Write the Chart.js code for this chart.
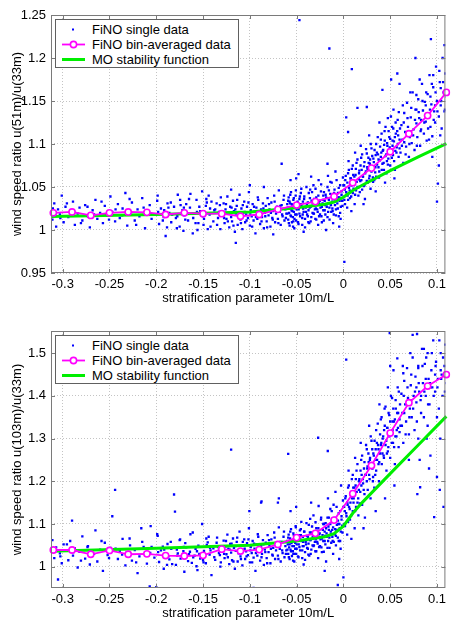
<!DOCTYPE html>
<html lang="en">
<head>
<meta charset="UTF-8">
<title>FiNO wind speed ratio vs stratification</title>
<script src="https://cdn.jsdelivr.net/npm/chart.js"></script>
<style>
  body { margin: 0; background: #fff; }
  #wrap { position: relative; width: 451px; height: 623px; font-family: "Liberation Sans", Arial, sans-serif; }
  canvas { position: absolute; left: 0; }
  .legend { position: absolute; left: 55px; width: 182px; height: 47px; border: 1px solid #606060; background: #fff; font-size: 13px; color: #000; }
  .legend .row { position: absolute; left: 0; width: 182px; height: 15px; line-height: 15px; }
  .legend svg { position: absolute; left: 0; top: 0; }
  .legend span { position: absolute; left: 36px; white-space: nowrap; }
</style>
</head>
<body>
<div id="wrap">
  <canvas id="top" width="451" height="310" style="top:0"></canvas>
  <canvas id="bottom" width="451" height="313" style="top:310px"></canvas>
  <div class="legend" id="legTop" style="top:19px"></div>
  <div class="legend" id="legBottom" style="top:335px"></div>
</div>

<script>
// bin centres (both panels)
const binX = [-0.31,-0.29,-0.27,-0.25,-0.23,-0.21,-0.19,-0.17,-0.15,-0.13,-0.11,-0.09,-0.07,-0.05,-0.03,-0.01,0.01,0.03,0.05,0.07,0.09,0.11];
// bin-averaged ratios
const bin51  = [1.020,1.021,1.017,1.020,1.021,1.0205,1.018,1.020,1.019,1.019,1.016,1.018,1.024,1.029,1.033,1.039,1.055,1.072,1.091,1.112,1.133,1.160];
const bin103 = [1.039,1.039,1.029,1.038,1.029,1.030,1.026,1.025,1.0265,1.041,1.0365,1.040,1.052,1.068,1.078,1.109,1.171,1.237,1.313,1.384,1.423,1.450];
// MO stability function
const moX   = [-0.3125,-0.2,-0.1,-0.05,-0.02,-0.01,0,0.01,0.02,0.05,0.08,0.11];
const mo51  = [1.0156,1.018,1.021,1.026,1.030,1.0326,1.038,1.046,1.052,1.069,1.085,1.1005];
const mo103 = [1.036,1.043,1.050,1.060,1.070,1.077,1.095,1.125,1.150,1.218,1.285,1.352];

// single data, x,y pairs
const single51 = [
-.311,1.012,-.309,1.031,-.307,1.004,-.305,1.024,-.303,1.018,-.301,1.040,-.299,1.009,-.297,1.027,-.294,1.015,-.292,1.022,
-.289,1.033,-.287,1.006,-.284,1.019,-.282,1.026,-.279,1.011,-.276,1.029,-.273,1.016,-.271,1.003,-.268,1.023,-.265,1.035,
-.263,1.013,-.260,1.020,-.257,1.008,-.255,1.028,-.252,1.017,-.249,1.039,-.247,1.021,-.244,1.010,-.241,1.030,-.239,1.014,
-.236,1.025,-.233,1.043,-.231,1.005,-.228,1.019,-.226,1.032,-.223,1.011,-.220,1.024,-.218,1.016,-.215,1.037,-.212,1.002,
-.210,1.022,-.207,1.029,-.205,1.013,-.202,1.018,-.199,1.034,-.197,1.007,-.195,1.025,-.192,1.015,-.190,0.993,-.188,1.031,
-.186,1.020,-.184,1.009,-.181,1.027,-.179,1.014,-.177,1.041,-.175,1.004,-.172,1.023,-.170,1.017,-.168,1.030,-.166,1.011,
-.164,1.026,-.161,0.996,-.159,1.019,-.157,1.035,-.155,1.008,-.153,1.022,-.151,1.045,-.149,1.013,-.147,1.028,-.145,1.001,
-.143,1.018,-.141,1.033,-.139,1.010,-.137,1.024,-.135,1.006,-.133,1.021,-.131,1.038,
-.198,1.021,-.193,1.011,-.187,1.026,-.183,1.018,-.178,1.002,-.174,1.029,-.169,1.012,-.165,1.036,-.162,1.019,-.158,1.008,
-.154,1.027,-.150,1.016,-.146,1.032,-.142,1.004,-.138,1.023,-.134,1.014,-.132,1.029,-.156,1.000,-.144,1.040,-.171,0.999,
-.3105,1.025,-.3025,1.014,-.2955,1.031,-.2885,1.019,-.2805,1.008,-.2735,1.027,-.2665,1.018,-.2585,1.033,-.2505,1.012,-.2435,1.024,
-.2365,1.017,-.2285,1.036,-.2215,1.006,-.2135,1.026,-.2065,1.019,-.1985,1.040,-.1915,1.023,-.1845,1.032,-.1775,1.016,-.1705,1.026,
-.1635,1.042,-.1565,1.021,-.1495,1.006,-.1425,1.025,-.1355,1.031,-.1315,1.001,-.1605,1.014,-.1745,1.035,-.1885,1.003,-.1465,1.036,
-.129,1.017,-.128,1.031,-.127,1.008,-.126,1.024,-.125,1.013,-.124,1.039,-.123,1.020,-.122,1.003,-.121,1.027,-.120,1.015,
-.119,1.010,-.118,1.034,-.117,1.022,-.116,0.998,-.115,1.019,-.114,1.028,-.113,1.006,-.112,1.016,-.111,1.041,-.110,1.012,
-.109,1.025,-.108,1.001,-.107,1.020,-.106,1.033,-.105,1.009,-.104,1.018,-.103,1.027,-.102,1.014,-.101,1.044,-.100,1.005,
-.099,1.023,-.098,1.016,-.097,1.030,-.096,1.011,-.095,1.021,-.094,0.996,-.093,1.026,-.092,1.013,-.091,1.035,-.090,1.018,
-.089,1.007,-.088,1.024,-.087,1.015,-.086,1.031,-.085,1.002,-.084,1.020,-.083,1.028,-.082,1.010,-.081,1.037,-.080,1.017,
-.079,1.024,-.078,1.004,-.077,1.032,-.076,1.014,-.075,1.022,-.074,1.040,-.073,1.009,-.072,1.019,-.071,1.027,-.070,1.013,
-.069,1.046,-.068,1.021,-.067,1.006,-.066,1.029,-.065,1.016,-.064,1.035,-.063,1.011,-.062,1.024,-.061,1.019,-.060,1.030,
-.1295,1.022,-.1275,1.014,-.1255,1.030,-.1235,1.010,-.1215,1.019,-.1195,1.026,-.1175,1.005,-.1155,1.024,-.1135,1.035,-.1115,1.017,
-.1095,1.008,-.1075,1.029,-.1055,1.021,-.1035,1.011,-.1015,1.032,-.0995,1.018,-.0975,1.004,-.0955,1.027,-.0935,1.015,-.0915,1.038,
-.0895,1.022,-.0875,1.010,-.0855,1.025,-.0835,1.016,-.0815,1.003,-.0795,1.030,-.0775,1.020,-.0755,1.012,-.0735,1.033,-.0715,1.023,
-.0695,1.008,-.0675,1.028,-.0655,1.018,-.0635,1.040,-.0615,1.014,
-.100,1.052,-.115,0.985,-.120,1.047,-.066,1.077,-.048,1.065,-.017,1.077,-.085,1.050,-.075,0.995,
-.0595,1.026,-.059,1.012,-.0585,1.038,-.058,1.020,-.0575,1.005,-.057,1.031,-.0565,1.017,-.056,1.044,-.0555,1.023,-.055,1.009,
-.0545,1.029,-.054,1.015,-.0535,1.035,-.053,1.021,-.0525,1.002,-.052,1.027,-.0515,1.018,-.051,1.040,-.0505,1.011,-.050,1.024,
-.049,1.033,-.048,1.007,-.047,1.019,-.046,1.028,-.045,1.048,-.044,1.014,-.043,1.025,-.042,1.036,-.041,1.003,-.040,1.021,
-.039,1.030,-.038,1.016,-.037,1.043,-.036,1.026,-.035,1.010,-.034,1.034,-.033,1.020,-.032,1.052,-.031,1.029,-.030,1.013,
-.029,1.038,-.028,1.024,-.027,1.006,-.026,1.031,-.025,1.018,-.024,1.045,-.023,1.027,-.022,1.035,-.021,1.011,-.020,1.023,
-.019,1.041,-.018,1.030,-.017,1.015,-.016,1.037,-.015,1.026,-.014,1.056,-.013,1.021,-.012,1.033,-.011,1.008,-.010,1.043,
-.009,1.029,-.008,1.017,-.007,1.038,-.006,1.025,-.005,1.049,-.004,1.034,-.003,1.013,-.002,1.041,-.001,1.028,0.000,1.052,
-.0575,1.033,-.0535,1.010,-.0465,1.039,-.0435,1.018,-.0395,1.027,-.0355,1.047,-.0315,1.019,-.0275,1.033,-.0235,1.016,-.0195,1.029,
-.0155,1.046,-.0115,1.022,-.0075,1.035,-.0035,1.020,-.0455,1.030,-.0375,1.009,-.0295,1.025,-.0215,1.040,-.0135,1.030,-.0055,1.038,
-.0345,1.062,-.0265,1.058,-.0165,1.063,-.0085,1.068,-.0425,0.998,-.0185,1.000,-.0045,1.004,-.0565,1.058,-.0505,1.060,0.001,0.963,
-.0598,1.019,-.0590,1.034,-.0583,1.008,-.0575,1.025,-.0568,1.041,-.0560,1.016,-.0553,1.030,-.0545,1.022,-.0538,1.004,-.0530,1.037,
-.0523,1.013,-.0515,1.027,-.0508,1.046,-.0500,1.018,-.0493,1.031,-.0485,1.009,-.0478,1.024,-.0470,1.036,-.0463,1.016,-.0455,1.043,
-.0448,1.028,-.0440,1.006,-.0433,1.033,-.0425,1.021,-.0418,1.039,-.0410,1.013,-.0403,1.026,-.0395,1.050,-.0388,1.018,-.0380,1.032,
-.0373,1.023,-.0365,1.008,-.0358,1.037,-.0350,1.027,-.0343,1.015,-.0335,1.044,-.0328,1.031,-.0320,1.019,-.0313,1.036,-.0305,1.024,
-.0298,1.048,-.0290,1.012,-.0283,1.030,-.0275,1.021,-.0268,1.040,-.0260,1.016,-.0253,1.034,-.0245,1.026,-.0238,1.053,-.0230,1.009,
-.0223,1.031,-.0215,1.023,-.0208,1.044,-.0200,1.034,-.0193,1.018,-.0185,1.038,-.0178,1.027,-.0170,1.050,-.0163,1.021,-.0155,1.035,
-.0148,1.012,-.0140,1.042,-.0133,1.029,-.0125,1.055,-.0118,1.025,-.0110,1.036,-.0103,1.018,-.0095,1.047,-.0088,1.033,-.0080,1.024,
-.0073,1.058,-.0065,1.031,-.0058,1.043,-.0050,1.016,-.0043,1.038,-.0035,1.052,-.0028,1.027,-.0020,1.045,-.0013,1.034,-.0005,1.061,
0.001,1.035,0.002,1.058,0.003,1.044,0.004,1.026,0.005,1.066,0.006,1.049,0.007,1.037,0.008,1.060,0.009,1.071,0.010,1.043,
0.011,1.055,0.012,1.030,0.013,1.064,0.014,1.078,0.015,1.050,0.016,1.040,0.017,1.069,0.018,1.057,0.019,1.084,0.020,1.047,
0.021,1.062,0.022,1.074,0.023,1.036,0.024,1.068,0.025,1.089,0.026,1.055,0.027,1.078,0.028,1.063,0.029,1.048,0.030,1.095,
0.031,1.072,0.032,1.083,0.033,1.058,0.034,1.067,0.035,1.100,0.036,1.076,0.037,1.088,0.038,1.061,0.039,1.081,0.040,1.105,
0.041,1.070,0.042,1.092,0.043,1.078,0.044,1.115,0.045,1.086,0.046,1.066,0.047,1.098,0.048,1.083,0.049,1.108,0.050,1.075,
0.051,1.094,0.052,1.120,0.053,1.087,0.054,1.103,0.055,1.070,0.056,1.112,0.057,1.096,0.058,1.128,0.059,1.085,0.060,1.105,
0.0015,1.047,0.0045,1.040,0.0075,1.052,0.0105,1.064,0.0135,1.046,0.0165,1.059,0.0195,1.070,0.0225,1.052,0.0255,1.073,0.0285,1.082,
0.0315,1.061,0.0345,1.087,0.0375,1.073,0.0405,1.090,0.0435,1.099,0.0465,1.080,0.0495,1.096,0.0525,1.104,0.0555,1.092,0.0585,1.110,
0.0055,1.080,0.0125,1.090,0.0185,1.098,0.0275,1.110,0.0385,1.125,0.0475,1.130,0.0535,1.140,0.0085,1.022,0.0215,1.030,0.0345,1.045,
0.0445,1.055,0.0545,1.060,
0.0008,1.052,0.0017,1.030,0.0025,1.063,0.0033,1.041,0.0042,1.055,0.0050,1.035,0.0058,1.070,0.0067,1.046,0.0075,1.060,0.0083,1.039,
0.0092,1.052,0.0100,1.075,0.0108,1.048,0.0117,1.062,0.0125,1.041,0.0133,1.071,0.0142,1.056,0.0150,1.082,0.0158,1.049,0.0167,1.066,
0.0175,1.044,0.0183,1.075,0.0192,1.058,0.0200,1.088,0.0208,1.062,0.0217,1.051,0.0225,1.079,0.0233,1.066,0.0242,1.094,0.0250,1.057,
0.0258,1.071,0.0267,1.084,0.0275,1.060,0.0283,1.077,0.0292,1.100,0.0300,1.068,0.0308,1.086,0.0317,1.056,0.0325,1.079,0.0333,1.093,
0.0342,1.073,0.0350,1.062,0.0358,1.090,0.0367,1.108,0.0375,1.082,0.0383,1.068,0.0392,1.097,0.0400,1.085,0.0408,1.112,0.0417,1.077,
0.0425,1.093,0.0433,1.070,0.0442,1.104,0.0450,1.120,0.0458,1.088,0.0467,1.101,0.0475,1.076,0.0483,1.115,0.0492,1.092,0.0500,1.106,
0.0508,1.132,0.0517,1.084,0.0525,1.098,0.0533,1.118,0.0542,1.080,0.0550,1.108,0.0558,1.125,0.0567,1.090,0.0575,1.115,0.0583,1.100,
0.0592,1.137,0.0600,1.095,
-.047,1.244,-.015,1.211,0.009,1.187,0.003,1.131,0.015,1.142,0.025,1.143,0.005,1.114,0.0417,1.163,0.0576,1.182,0.051,1.175,
0.060,1.170,0.078,1.157,0.096,1.180,
0.061,1.090,0.062,1.122,0.063,1.105,0.064,1.078,0.065,1.136,0.066,1.114,0.067,1.097,0.068,1.148,0.069,1.120,0.070,1.085,
0.071,1.108,0.072,1.131,0.073,1.101,0.074,1.160,0.075,1.117,0.076,1.093,0.077,1.140,0.078,1.124,0.079,1.108,0.080,1.152,
0.081,1.130,0.082,1.098,0.083,1.117,0.084,1.170,0.085,1.139,0.086,1.112,0.087,1.149,0.088,1.126,0.089,1.104,0.090,1.158,
0.091,1.135,0.092,1.180,0.093,1.120,0.094,1.146,0.095,1.109,0.096,1.166,0.097,1.138,0.098,1.125,0.099,1.190,0.100,1.150,
0.101,1.054,0.102,1.132,0.103,1.172,0.104,1.145,0.105,1.118,0.106,1.200,0.107,1.160,0.108,1.138,0.109,1.182,0.110,1.155,
0.065,1.102,0.072,1.115,0.078,1.140,0.083,1.128,0.088,1.145,0.093,1.155,0.098,1.145,0.104,1.165,0.100,1.033,0.102,1.075,
0.095,1.085,0.0935,1.222,0.077,1.200,0.108,1.215,
0.0605,1.118,0.0625,1.098,0.0645,1.125,0.0665,1.088,0.0685,1.130,0.0705,1.100,0.0725,1.142,0.0745,1.110,0.0765,1.128,0.0785,1.098,
0.0805,1.137,0.0825,1.115,0.0845,1.150,0.0865,1.125,0.0885,1.160,0.0905,1.118,0.0925,1.140,0.0945,1.170,0.0965,1.128,0.0985,1.160,
0.1005,1.138,0.1025,1.185,0.1045,1.150,0.1065,1.172,0.1085,1.140,0.0635,1.145,0.0715,1.160,0.0815,1.175,0.0915,1.105,0.1035,1.110
];

const single103 = [
-.311,1.062,-.309,1.020,-.307,1.045,-.305,0.970,-.303,1.031,-.301,1.008,-.299,1.052,-.297,1.037,-.294,1.015,-.292,1.060,
-.290,1.108,-.289,1.026,-.287,1.043,-.284,0.998,-.282,1.035,-.279,1.071,-.276,1.019,-.273,1.048,-.271,1.005,-.268,1.030,
-.265,1.085,-.263,1.012,-.260,1.040,-.257,0.990,-.255,1.056,-.252,1.027,-.249,1.044,-.247,1.118,-.244,1.180,-.241,1.018,
-.239,1.036,-.236,1.065,-.233,1.003,-.231,1.029,-.228,1.050,-.226,1.014,-.223,1.039,-.220,0.985,-.218,1.024,-.215,1.058,
-.212,1.033,-.210,1.007,-.207,0.954,-.205,1.046,-.202,1.021,-.200,0.952,-.199,1.076,-.197,1.011,-.195,1.038,-.192,0.995,
-.190,1.028,-.188,1.053,-.186,1.017,-.184,1.042,-.181,1.169,-.180,1.129,-.179,1.004,-.177,1.031,-.175,1.062,-.172,1.022,
-.170,0.988,-.168,1.045,-.166,1.013,-.164,1.035,-.161,1.080,-.159,1.026,-.157,1.001,-.155,1.049,-.153,1.019,-.151,1.100,
-.149,1.037,-.147,1.008,-.145,1.057,-.143,1.028,-.141,0.980,-.139,1.043,-.137,1.016,-.135,1.068,-.133,1.032,-.131,1.010,
-.198,1.034,-.193,1.047,-.187,1.024,-.183,1.006,-.178,1.040,-.174,1.019,-.169,1.055,-.165,1.029,-.162,1.009,-.158,1.042,
-.154,1.030,-.150,1.015,-.146,1.051,-.142,1.038,-.138,1.022,-.134,1.046,-.132,1.027,-.156,0.992,-.144,1.070,-.171,1.036,
-.216,1.090,-.206,1.095,
-.3105,1.040,-.3025,1.024,-.2955,1.052,-.2885,1.034,-.2805,1.014,-.2735,1.046,-.2665,1.030,-.2585,1.060,-.2505,1.020,-.2435,1.042,
-.2365,1.028,-.2285,1.066,-.2215,1.010,-.2135,1.046,-.2065,1.032,-.1985,1.072,-.1915,1.040,-.1845,1.058,-.1775,1.026,-.1705,1.046,
-.1635,1.076,-.1565,1.036,-.1495,1.010,-.1425,1.044,-.1355,1.056,-.1315,1.000,-.1605,1.022,-.1745,1.064,-.1885,1.004,-.1465,1.066,
-.129,1.038,-.128,1.061,-.127,1.020,-.126,1.047,-.125,1.029,-.124,1.075,-.123,1.042,-.122,1.006,-.121,1.053,-.120,1.033,
-.119,1.015,-.118,1.066,-.117,1.044,-.116,0.995,-.115,1.037,-.114,1.058,-.113,1.012,-.112,1.031,-.111,1.082,-.110,1.024,
-.109,1.049,-.108,1.003,-.107,1.040,-.106,1.064,-.105,1.018,-.104,1.036,-.103,1.055,-.102,1.027,-.101,1.090,-.100,1.010,
-.099,1.046,-.098,1.032,-.097,1.060,-.096,1.021,-.095,1.042,-.094,0.990,-.093,1.052,-.092,1.026,-.091,1.070,-.090,1.036,
-.089,1.014,-.088,1.048,-.087,1.030,-.086,1.062,-.085,1.004,-.084,1.040,-.083,1.056,-.082,1.020,-.081,1.074,-.080,1.034,
-.079,1.048,-.078,1.008,-.077,1.064,-.076,1.028,-.075,1.044,-.074,1.080,-.073,1.018,-.072,1.038,-.071,1.054,-.070,1.026,
-.069,1.092,-.068,1.042,-.067,1.012,-.066,1.058,-.065,1.032,-.064,1.070,-.063,1.022,-.062,1.048,-.061,1.038,-.060,1.060,
-.1295,1.046,-.1275,1.030,-.1255,1.060,-.1235,1.022,-.1215,1.040,-.1195,1.054,-.1175,1.012,-.1155,1.048,-.1135,1.068,-.1115,1.035,
-.1095,1.018,-.1075,1.058,-.1055,1.042,-.1035,1.024,-.1015,1.064,-.0995,1.038,-.0975,1.010,-.0955,1.054,-.0935,1.032,-.0915,1.076,
-.0895,1.046,-.0875,1.022,-.0855,1.052,-.0835,1.034,-.0815,1.008,-.0795,1.062,-.0775,1.042,-.0755,1.026,-.0735,1.068,-.0715,1.048,
-.0695,1.018,-.0675,1.058,-.0655,1.038,-.0635,1.082,-.0615,1.030,
-.059,1.264,-.0167,1.271,-.1005,1.130,-.088,1.150,-.070,1.150,-.096,0.950,-.0875,1.153,-.069,1.160,-.027,1.302,-.120,1.274,
-.0595,1.052,-.059,1.030,-.0585,1.075,-.058,1.045,-.0575,1.018,-.057,1.066,-.0565,1.040,-.056,1.088,-.0555,1.055,-.055,1.025,
-.0545,1.062,-.054,1.036,-.0535,1.078,-.053,1.048,-.0525,1.012,-.052,1.058,-.0515,1.042,-.051,1.095,-.0505,1.030,-.050,1.052,
-.049,1.070,-.048,1.022,-.047,1.046,-.046,1.064,-.045,1.105,-.044,1.038,-.043,1.058,-.042,1.082,-.041,1.016,-.040,1.052,
-.039,1.072,-.038,1.042,-.037,1.098,-.036,1.062,-.035,1.030,-.034,1.080,-.033,1.050,-.032,1.120,-.031,1.068,-.030,1.036,
-.029,1.090,-.028,1.058,-.027,1.020,-.026,1.076,-.025,1.048,-.024,1.110,-.023,1.066,-.022,1.086,-.021,1.035,-.020,1.060,
-.019,1.102,-.018,1.078,-.017,1.044,-.016,1.094,-.015,1.068,-.014,1.135,-.013,1.056,-.012,1.086,-.011,1.030,-.010,1.108,
-.009,1.076,-.008,1.050,-.007,1.098,-.006,1.068,-.005,1.125,-.004,1.090,-.003,1.042,-.002,1.110,-.001,1.080,0.000,1.140,
-.0575,1.060,-.0535,1.030,-.0465,1.085,-.0435,1.048,-.0395,1.062,-.0355,1.112,-.0315,1.050,-.0275,1.082,-.0235,1.045,-.0195,1.072,
-.0155,1.115,-.0115,1.060,-.0075,1.085,-.0035,1.060,-.0455,1.074,-.0375,1.028,-.0295,1.064,-.0215,1.100,-.0135,1.082,-.0055,1.100,
-.0345,1.150,-.0265,1.142,-.0165,1.160,-.0085,1.175,-.0425,1.005,-.0185,1.012,-.0045,1.018,-.0565,1.130,-.0505,1.140,-.0025,1.190,
-.0105,1.145,-.020,0.990,0.000,0.975,-.006,0.957,
-.0598,1.040,-.0590,1.068,-.0583,1.022,-.0575,1.052,-.0568,1.082,-.0560,1.036,-.0553,1.062,-.0545,1.048,-.0538,1.014,-.0530,1.074,
-.0523,1.030,-.0515,1.056,-.0508,1.092,-.0500,1.042,-.0493,1.064,-.0485,1.024,-.0478,1.052,-.0470,1.074,-.0463,1.038,-.0455,1.088,
-.0448,1.060,-.0440,1.020,-.0433,1.070,-.0425,1.048,-.0418,1.082,-.0410,1.034,-.0403,1.058,-.0395,1.102,-.0388,1.044,-.0380,1.070,
-.0373,1.054,-.0365,1.026,-.0358,1.080,-.0350,1.062,-.0343,1.040,-.0335,1.094,-.0328,1.070,-.0320,1.048,-.0313,1.080,-.0305,1.058,
-.0298,1.104,-.0290,1.036,-.0283,1.070,-.0275,1.054,-.0268,1.090,-.0260,1.046,-.0253,1.078,-.0245,1.064,-.0238,1.115,-.0230,1.034,
-.0223,1.074,-.0215,1.060,-.0208,1.100,-.0200,1.082,-.0193,1.052,-.0185,1.090,-.0178,1.070,-.0170,1.115,-.0163,1.060,-.0155,1.086,
-.0148,1.044,-.0140,1.100,-.0133,1.076,-.0125,1.130,-.0118,1.070,-.0110,1.092,-.0103,1.058,-.0095,1.114,-.0088,1.088,-.0080,1.072,
-.0073,1.140,-.0065,1.086,-.0058,1.108,-.0050,1.060,-.0043,1.100,-.0035,1.130,-.0028,1.082,-.0020,1.118,-.0013,1.096,-.0005,1.155,
0.001,1.100,0.002,1.160,0.003,1.125,0.004,1.075,0.005,1.185,0.006,1.140,0.007,1.110,0.008,1.170,0.009,1.205,0.010,1.130,
0.011,1.160,0.012,1.090,0.013,1.190,0.014,1.225,0.015,1.150,0.016,1.120,0.017,1.205,0.018,1.175,0.019,1.250,0.020,1.145,
0.021,1.195,0.022,1.230,0.023,1.115,0.024,1.215,0.025,1.275,0.026,1.180,0.027,1.245,0.028,1.205,0.029,1.160,0.030,1.295,
0.031,1.230,0.032,1.265,0.033,1.185,0.034,1.215,0.035,1.320,0.036,1.250,0.037,1.285,0.038,1.200,0.039,1.265,0.040,1.345,
0.041,1.240,0.042,1.300,0.043,1.260,0.044,1.370,0.045,1.285,0.046,1.225,0.047,1.325,0.048,1.280,0.049,1.355,0.050,1.255,
0.051,1.310,0.052,1.395,0.053,1.290,0.054,1.340,0.055,1.240,0.056,1.370,0.057,1.320,0.058,1.420,0.059,1.280,0.060,1.345,
0.0015,1.130,0.0045,1.145,0.0075,1.150,0.0105,1.185,0.0135,1.140,0.0165,1.180,0.0195,1.215,0.0225,1.170,0.0255,1.230,0.0285,1.255,
0.0315,1.200,0.0345,1.275,0.0375,1.240,0.0405,1.290,0.0435,1.320,0.0465,1.265,0.0495,1.310,0.0525,1.340,0.0555,1.305,0.0585,1.360,
0.0055,1.225,0.0125,1.255,0.0185,1.290,0.0275,1.330,0.0385,1.380,0.0475,1.420,0.0535,1.460,0.0085,1.065,0.0215,1.090,0.0345,1.130,
0.0445,1.160,0.0545,1.190,
0.0008,1.140,0.0017,1.095,0.0025,1.165,0.0033,1.118,0.0042,1.150,0.0050,1.105,0.0058,1.190,0.0067,1.135,0.0075,1.170,0.0083,1.120,
0.0092,1.160,0.0100,1.215,0.0108,1.150,0.0117,1.185,0.0125,1.130,0.0133,1.205,0.0142,1.175,0.0150,1.240,0.0158,1.160,0.0167,1.200,
0.0175,1.148,0.0183,1.225,0.0192,1.190,0.0200,1.260,0.0208,1.205,0.0217,1.180,0.0225,1.245,0.0233,1.215,0.0242,1.285,0.0250,1.200,
0.0258,1.235,0.0267,1.265,0.0275,1.215,0.0283,1.250,0.0292,1.305,0.0300,1.235,0.0308,1.275,0.0317,1.210,0.0325,1.260,0.0333,1.295,
0.0342,1.250,0.0350,1.225,0.0358,1.290,0.0367,1.335,0.0375,1.275,0.0383,1.245,0.0392,1.310,0.0400,1.285,0.0408,1.350,0.0417,1.265,
0.0425,1.305,0.0433,1.255,0.0442,1.330,0.0450,1.375,0.0458,1.295,0.0467,1.325,0.0475,1.270,0.0483,1.360,0.0492,1.305,0.0500,1.340,
0.0508,1.400,0.0517,1.290,0.0525,1.320,0.0533,1.370,0.0542,1.280,0.0550,1.345,0.0558,1.390,0.0567,1.305,0.0575,1.360,0.0583,1.325,
0.0592,1.410,0.0600,1.315,
0.003,1.485,0.0495,1.547,0.0787,1.545,0.0576,1.488,0.064,1.453,0.080,1.465,0.050,1.470,0.086,1.510,0.074,1.543,
0.061,1.330,0.062,1.405,0.063,1.360,0.064,1.290,0.065,1.435,0.066,1.380,0.067,1.340,0.068,1.465,0.069,1.395,0.070,1.310,
0.071,1.370,0.072,1.425,0.073,1.350,0.074,1.490,0.075,1.400,0.076,1.320,0.077,1.445,0.078,1.385,0.079,1.170,0.080,1.470,
0.081,1.410,0.082,1.186,0.083,1.360,0.084,1.510,0.085,1.430,0.086,1.350,0.087,1.475,0.088,1.400,0.089,1.300,0.090,1.500,
0.091,1.440,0.092,1.380,0.093,1.260,0.094,1.460,0.095,1.420,0.096,1.530,0.097,1.116,0.098,1.410,0.099,1.480,0.100,1.210,
0.101,1.440,0.102,1.370,0.103,1.180,0.104,1.500,0.105,1.450,0.106,1.400,0.107,1.140,0.108,1.470,0.109,1.520,0.110,1.430,
0.065,1.360,0.072,1.390,0.078,1.420,0.083,1.400,0.088,1.440,0.093,1.420,0.098,1.450,0.104,1.460,0.070,1.250,0.080,1.300,
0.090,1.330,0.100,1.350,
0.0605,1.380,0.0625,1.330,0.0645,1.400,0.0665,1.310,0.0685,1.420,0.0705,1.350,0.0725,1.450,0.0745,1.370,0.0765,1.410,0.0785,1.340,
0.0805,1.430,0.0825,1.390,0.0845,1.470,0.0865,1.410,0.0885,1.490,0.0905,1.380,0.0925,1.430,0.0945,1.500,0.0965,1.400,0.0985,1.470,
0.1005,1.420,0.1025,1.530,0.1045,1.440,0.1065,1.490,0.1085,1.410,0.0635,1.470,0.0715,1.500,0.0815,1.250,0.0915,1.230,0.1035,1.300
];

// x-axis tick labels
const xTicks = [-0.3,-0.25,-0.2,-0.15,-0.1,-0.05,0,0.05,0.1];

const BLUE = '#0000ff', MAGENTA = '#ff00ff', GREEN = '#00ee00';

function pairs(flat) {
  const out = [];
  for (let i = 0; i < flat.length; i += 2) out.push({x: flat[i], y: flat[i + 1]});
  return out;
}
function zip(xs, ys) {
  return xs.map((x, i) => ({x: x, y: ys[i]}));
}
function fmt(v) {
  return String(+(+v).toFixed(3));
}

// MATLAB style box with inward ticks
const boxPlugin = {
  id: 'box',
  afterDraw(chart) {
    const {ctx, chartArea: a, scales: {x, y}} = chart;
    ctx.save();
    ctx.strokeStyle = '#7a7a7a';
    ctx.lineWidth = 1;
    ctx.strokeRect(a.left + 0.5, a.top + 0.5, a.right - a.left - 1, a.bottom - a.top - 1);
    ctx.beginPath();
    x.ticks.forEach(t => {
      const px = Math.round(x.getPixelForValue(t.value)) + 0.5;
      ctx.moveTo(px, a.bottom); ctx.lineTo(px, a.bottom - 4);
      ctx.moveTo(px, a.top); ctx.lineTo(px, a.top + 4);
    });
    y.ticks.forEach(t => {
      const py = Math.round(y.getPixelForValue(t.value)) + 0.5;
      ctx.moveTo(a.left, py); ctx.lineTo(a.left + 4, py);
      ctx.moveTo(a.right, py); ctx.lineTo(a.right - 4, py);
    });
    ctx.stroke();
    ctx.restore();
  }
};

function makeChart(id, cfg) {
  const font = {family: '"Liberation Sans", Arial, sans-serif', size: 13};
  return new Chart(document.getElementById(id), {
    type: 'scatter',
    data: {
      datasets: [
        {label: 'FiNO single data', data: pairs(cfg.single), backgroundColor: BLUE, borderWidth: 0,
         pointStyle: 'rect', pointRadius: 1.65, order: 3},
        {label: 'MO stability function', data: zip(moX, cfg.mo), showLine: true, borderColor: GREEN,
         borderWidth: 3, pointRadius: 0, order: 2, clip: false},
        {label: 'FiNO bin-averaged data', data: zip(binX, cfg.bin), showLine: true, borderColor: MAGENTA,
         borderWidth: 1.8, pointRadius: 3.1, pointBorderWidth: 1.6, pointBorderColor: MAGENTA,
         pointBackgroundColor: '#fff', order: 1, clip: 5}
      ]
    },
    options: {
      responsive: false,
      animation: false,
      devicePixelRatio: 1,
      events: [],
      layout: {padding: {left: 0, right: 2, top: cfg.padTop, bottom: 0}},
      plugins: {legend: {display: false}, tooltip: {enabled: false}},
      scales: {
        x: {
          type: 'linear', min: -0.3125, max: 0.109,
          afterFit: s => { s.height = cfg.xHeight; },
          afterBuildTicks: s => { s.ticks = xTicks.map(v => ({value: v})); },
          ticks: {font: font, color: '#000', padding: 4, maxRotation: 0, callback: fmt},
          grid: {color: '#c4c4c4', drawTicks: false},
          border: {display: false, dash: [1, 2]},
          title: {display: true, text: 'stratification parameter 10m/L', font: font, color: '#000',
                  padding: {top: 0, bottom: cfg.titlePad}}
        },
        y: {
          type: 'linear', min: cfg.yMin, max: cfg.yMax,
          afterFit: s => { s.width = 51; },
          afterBuildTicks: s => { s.ticks = cfg.yTicks.map(v => ({value: v})); },
          ticks: {font: font, color: '#000', padding: 5, callback: fmt},
          grid: {color: '#c4c4c4', drawTicks: false},
          border: {display: false, dash: [1, 2]},
          title: {display: true, text: cfg.yTitle, font: font, color: '#000', padding: {top: 10, bottom: 0}}
        }
      }
    },
    plugins: [boxPlugin]
  });
}

function makeLegend(id) {
  const rows = [
    {text: 'FiNO single data', svg: '<rect x="16" y="6.5" width="2" height="2" fill="' + BLUE + '"/>'},
    {text: 'FiNO bin-averaged data', svg: '<line x1="6" y1="7.5" x2="29" y2="7.5" stroke="' + MAGENTA + '" stroke-width="1.8"/>' +
        '<circle cx="17.5" cy="7.5" r="3.1" fill="#fff" stroke="' + MAGENTA + '" stroke-width="1.6"/>'},
    {text: 'MO stability function', svg: '<line x1="6" y1="7.5" x2="29" y2="7.5" stroke="' + GREEN + '" stroke-width="3"/>'}
  ];
  const tops = [1.5, 16.5, 31.5];
  document.getElementById(id).innerHTML = rows.map((r, i) =>
    '<div class="row" style="top:' + tops[i] + 'px"><svg width="36" height="15">' + r.svg +
    '</svg><span>' + r.text + '</span></div>').join('');
}

makeChart('top', {
  single: single51, bin: bin51, mo: mo51,
  yMin: 0.95, yMax: 1.25, yTicks: [0.95,1,1.05,1.1,1.15,1.2,1.25],
  yTitle: 'wind speed ratio u(51m)/u(33m)',
  padTop: 15, xHeight: 37, titlePad: 4
});
makeChart('bottom', {
  single: single103, bin: bin103, mo: mo103,
  yMin: 0.95, yMax: 1.552, yTicks: [1,1.1,1.2,1.3,1.4,1.5],
  yTitle: 'wind speed ratio u(103m)/u(33m)',
  padTop: 21, xHeight: 35, titlePad: 2
});
makeLegend('legTop');
makeLegend('legBottom');
</script>
</body>
</html>
